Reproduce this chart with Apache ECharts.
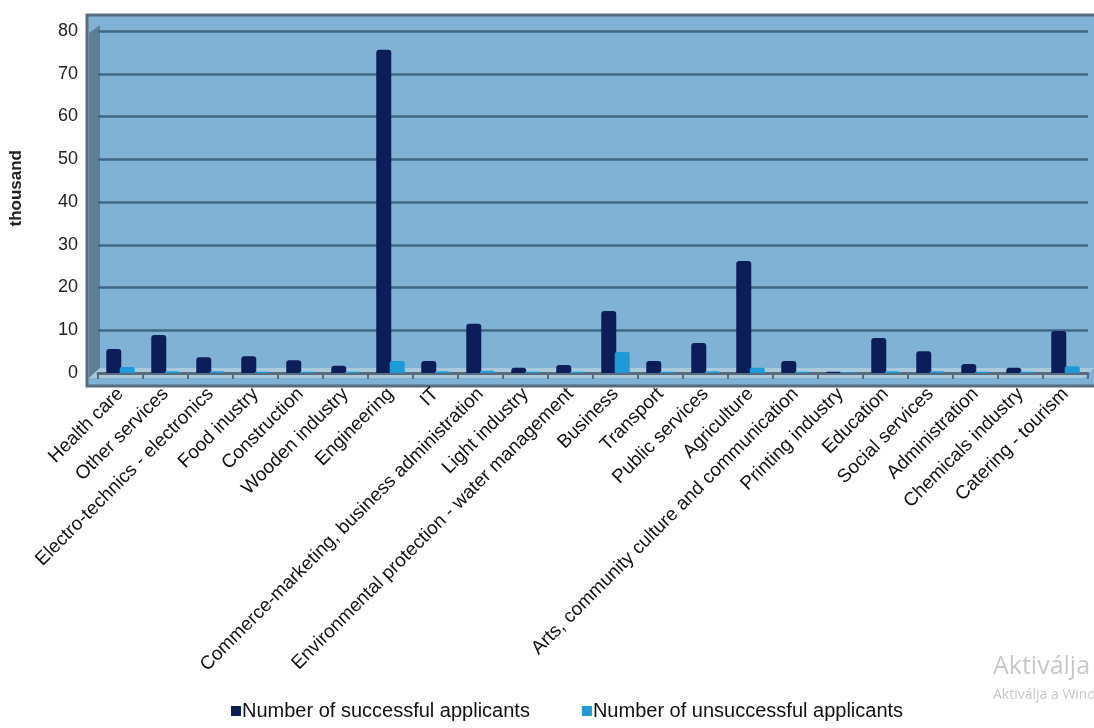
<!DOCTYPE html>
<html><head><meta charset="utf-8">
<script src="https://cdn.jsdelivr.net/npm/echarts@6/dist/echarts.min.js"></script>
<style>html,body{margin:0;padding:0;background:#fff}#c{width:1094px;height:728px}</style>
</head><body><div id="c"></div>
<script>
const categories = ["Health care","Other services","Electro-technics - electronics","Food inustry","Construction","Wooden industry","Engineering","IT","Commerce-marketing, business administration","Light industry","Environmental protection - water management","Business","Transport","Public services","Agriculture","Arts, community culture and communication","Printing industry","Education","Social services","Administration","Chemicals industry","Catering - tourism"];
const successful = [5.6,8.9,3.7,3.9,3.0,1.7,75.6,2.8,11.5,1.2,1.9,14.5,2.8,7.0,26.2,2.8,0.3,8.2,5.1,2.1,1.2,9.8];
const unsuccessful = [1.4,0.4,0.4,0.3,0.3,0.3,2.8,0.4,0.5,0.3,0.3,4.9,0.3,0.4,1.2,0.3,0.2,0.4,0.4,0.3,0.3,1.6];
const yTicks = [0,10,20,30,40,50,60,70,80];

const chart = echarts.init(document.getElementById('c'));
chart.setOption({
  animation:false,
  backgroundColor:'#fff',
  graphic:[
    {type:'rect', z:-10, shape:{x:87,y:15,width:1010,height:371}, style:{fill:'#7fb2d4', stroke:'#5a6c7b', lineWidth:3}},
    {type:'polygon', z:-9, shape:{points:[[89,33],[100,25],[100,368],[89,378]]}, style:{fill:'#5f7f96'}},
    {type:'polygon', z:-9, shape:{points:[[89,378],[100,368],[1094,368],[1084,378]]}, style:{fill:'#a9c9dd'}},
    {type:'text', left:8, top:150, rotation:Math.PI/2, style:{text:'thousand', font:'bold 17px "Liberation Sans", Arial', fill:'#222'}},
    {type:'text', left:993, top:654, style:{text:'Aktiválja a Windows-t', font:'25px "Open Sans", "Noto Sans", sans-serif', fill:'#c8c8c8'}},
    {type:'text', left:993, top:688, style:{text:'Aktiválja a Windows-t a Gépházban.', font:'14px "Open Sans", "Noto Sans", sans-serif', fill:'#c8c8c8'}}
  ],
  legend:{
    data:['Number of successful applicants','Number of unsuccessful applicants'],
    bottom:2, left:226, itemWidth:10, itemHeight:10, itemGap:52, icon:'rect',
    textStyle:{fontFamily:'"Liberation Sans", Arial', fontSize:20, color:'#111', padding:[0,0,0,-4]}
  },
  grid:{left:98, right:6, top:31, bottom:355, containLabel:false},
  xAxis:{
    type:'category', data:categories,
    axisLine:{show:true, lineStyle:{color:'#5a6c7b', width:3}},
    axisTick:{show:true, alignWithLabel:false, length:6, lineStyle:{color:'#5a6c7b', width:2}},
    axisLabel:{interval:0, rotate:45, margin:18, fontFamily:'"Liberation Sans", Arial', fontSize:19, color:'#111'}
  },
  yAxis:{
    type:'value', min:0, max:80, interval:10,
    axisLine:{show:false}, axisTick:{show:false},
    axisLabel:{margin:20, fontFamily:'"Liberation Sans", Arial', fontSize:18, color:'#222'},
    splitLine:{lineStyle:{color:'#3f6784', width:2.5}}
  },
  series:[
    {name:'Number of successful applicants', type:'bar', data:successful, barWidth:15, barGap:'-10%',
     itemStyle:{color:'#0c1d5a', borderRadius:[3,3,0,0]}},
    {name:'Number of unsuccessful applicants', type:'bar', data:unsuccessful, barWidth:15,
     itemStyle:{color:'#1f9ad8', borderRadius:[2,2,0,0]}}
  ]
});
</script></body></html>
